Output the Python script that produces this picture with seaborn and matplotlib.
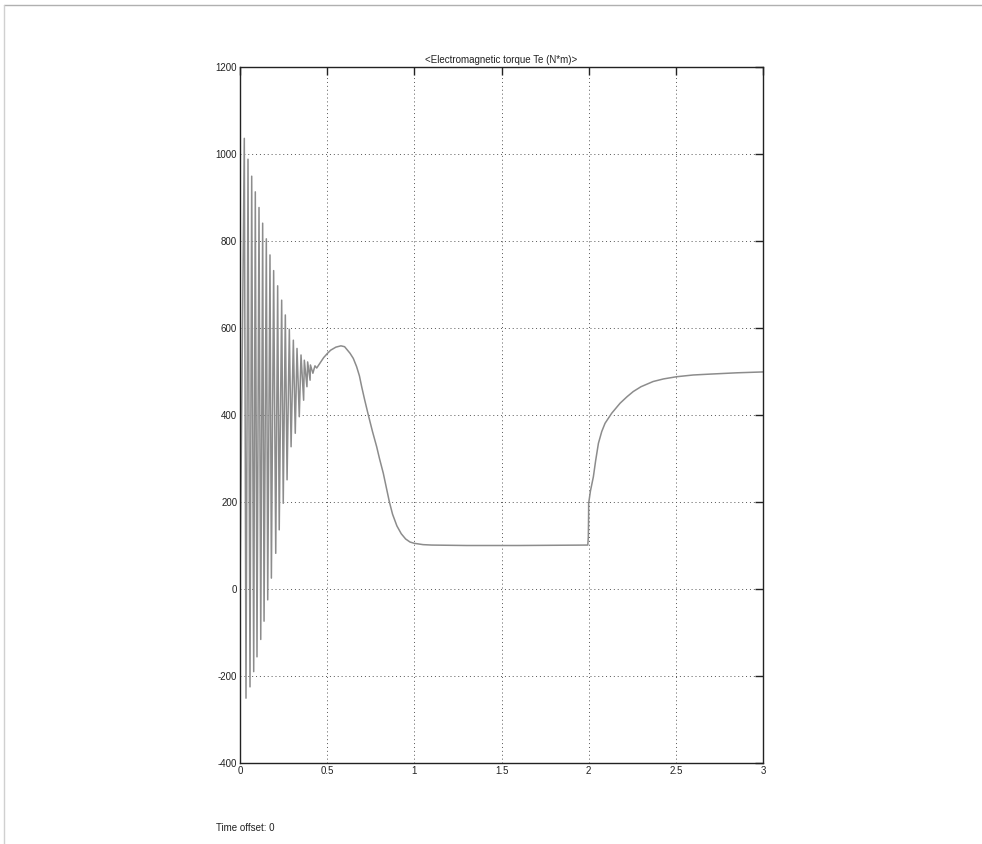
import numpy as np
import pandas as pd
import matplotlib
matplotlib.use("Agg")
import matplotlib.pyplot as plt
from matplotlib.lines import Line2D
import seaborn as sns

sns.set_style("white")
plt.rcParams['font.family'] = ['Liberation Sans', 'DejaVu Sans']

title = "<Electromagnetic torque Te (N*m)>"
offset_text = "Time offset: 0"
x_ticks = [0, 0.5, 1, 1.5, 2, 2.5, 3]
x_tick_labels = ["0", "0.5", "1", "1.5", "2", "2.5", "3"]
y_ticks = [-400, -200, 0, 200, 400, 600, 800, 1000, 1200]
y_tick_labels = ["-400", "-200", "0", "200", "400", "600", "800", "1000", "1200"]

# start-up oscillation: upper peaks
peak_t = [0.0247, 0.0459, 0.0671, 0.0878, 0.109, 0.130, 0.151, 0.172, 0.193,
          0.216, 0.239, 0.260, 0.283, 0.306, 0.327, 0.350, 0.369, 0.388, 0.404, 0.430]
peak_v = [1036, 988, 949, 913, 877, 841, 805, 768, 732,
          697, 664, 630, 597, 572, 553, 538, 526, 522, 515, 513]
# lower troughs
trough_t = [0.0344, 0.0574, 0.0786, 0.0975, 0.119, 0.138, 0.159, 0.180, 0.205,
            0.225, 0.248, 0.270, 0.293, 0.317, 0.340, 0.365, 0.384, 0.402, 0.418, 0.440]
trough_v = [-251, -225, -190, -156, -116, -74, -25, 25, 82,
            136, 197, 251, 327, 358, 396, 434, 465, 480, 496, 508]
# smooth part
smooth_t = [0.0, 0.460, 0.480, 0.500, 0.520, 0.550, 0.579, 0.600, 0.631, 0.650,
            0.669, 0.685, 0.698, 0.715, 0.736, 0.760, 0.784, 0.800, 0.822, 0.840,
            0.857, 0.875, 0.900, 0.925, 0.950, 0.975, 1.000, 1.050, 1.100, 1.300,
            1.600, 1.995, 1.998, 1.9995, 2.000, 2.010, 2.027, 2.040, 2.056, 2.075,
            2.094, 2.132, 2.180, 2.220, 2.256, 2.300, 2.370, 2.430, 2.505, 2.600,
            2.696, 2.850, 3.000]
smooth_v = [0, 520, 532, 541, 549, 556, 559, 557, 542, 530,
            511, 490, 465, 435, 400, 362, 327, 300, 266, 232,
            200, 172, 145, 127, 115, 108, 105, 102, 101, 100,
            100, 101, 120, 166, 197, 225, 258, 295, 335, 362,
            381, 404, 427, 442, 454, 465, 477, 483, 488, 492,
            494, 497, 499]

df = pd.DataFrame({
    "t": peak_t + trough_t + smooth_t,
    "Te": peak_v + trough_v + smooth_v,
}).sort_values("t").reset_index(drop=True)

fig = plt.figure(figsize=(9.82, 8.44), dpi=100)
ax = fig.add_axes([240/982, 1-763/844, 523/982, 696/844])

sns.lineplot(data=df, x="t", y="Te", ax=ax, sort=False, estimator=None,
             color="#8c8c8c", linewidth=1.1)

ax.set_xlim(0, 3)
ax.set_ylim(-400, 1200)
ax.set_xticks(x_ticks)
ax.set_xticklabels(x_tick_labels)
ax.set_yticks(y_ticks)
ax.set_yticklabels(y_tick_labels)
ax.set_xlabel("")
ax.set_ylabel("")
ax.grid(True, linestyle=(0, (1, 3)), color="#555555", linewidth=0.7)
ax.tick_params(direction="in", length=6, width=1.0, top=True, right=True,
               labelsize=7, colors="#222222", pad=2)
for s in ax.spines.values():
    s.set_visible(True)
    s.set_color("#222222")
    s.set_linewidth(1.0)
ax.set_title(title, fontsize=7, pad=3, color="#222222")

fig.text(216/982, 1-828/844, offset_text, fontsize=7, color="#222222",
         ha="left", va="center")

# page frame lines
fig.add_artist(Line2D([4/982, 1], [1-4.5/844, 1-4.5/844], color="#b0b0b0", linewidth=1.0))
fig.add_artist(Line2D([4/982, 4/982], [0, 1-4.5/844], color="#d0d0d0", linewidth=1.0))

fig.savefig("out.png", dpi=100)
